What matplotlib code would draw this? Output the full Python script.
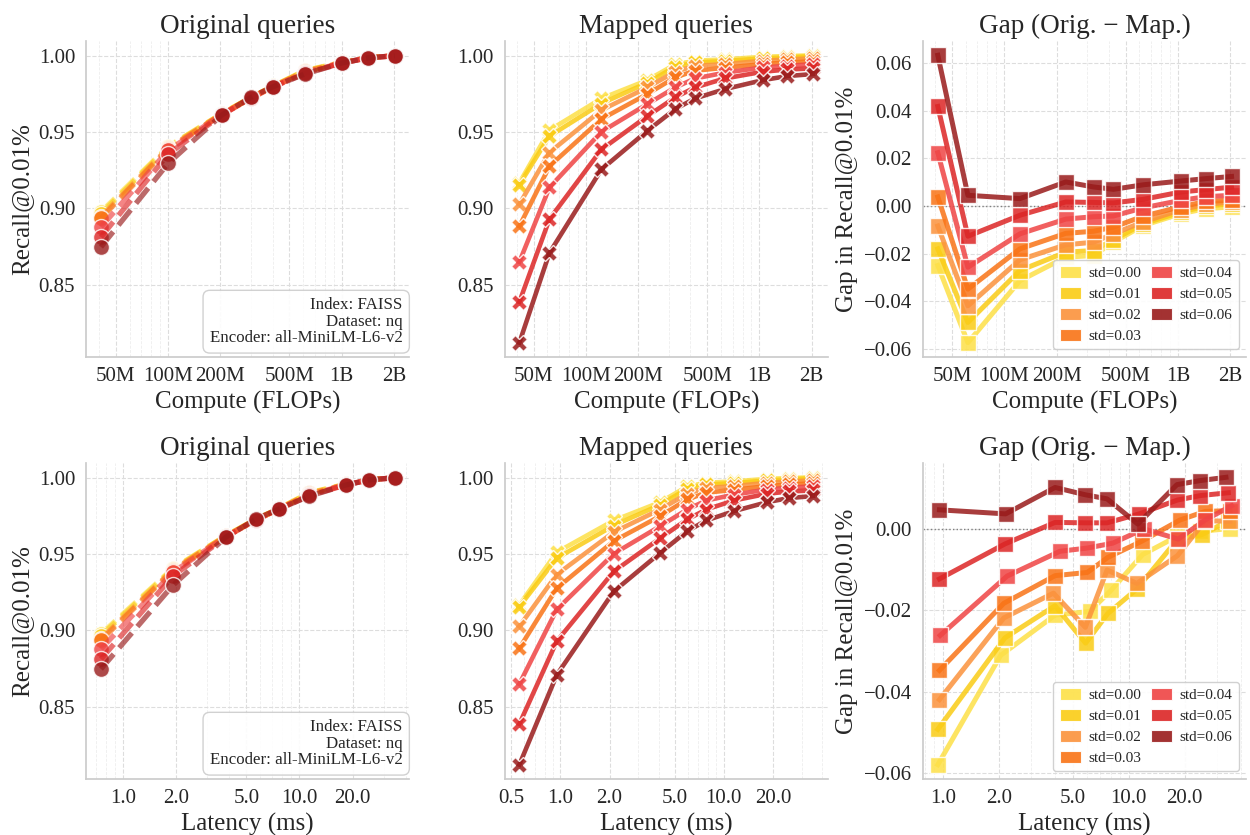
import matplotlib
matplotlib.use("Agg")
import matplotlib.pyplot as plt
from matplotlib.patches import Patch
from matplotlib.ticker import FixedLocator, NullFormatter, FuncFormatter

# noise levels and their colours
stds = [0.00, 0.01, 0.02, 0.03, 0.04, 0.05, 0.06]
colors = ['#FDE047', '#FACC15', '#FB923C', '#F97316', '#EF4444', '#DC2626', '#991B1B']

# operating points (x)
orig_flops = [41e6, 100e6, 204e6, 302e6, 402e6, 612e6, 1.01e9, 1.42e9, 2.02e9]
map_flops = [41.4e6, 61.7e6, 123e6, 226e6, 327e6, 425e6, 631e6, 1.045e9, 1.452e9, 2.04e9]
orig_lat = [0.747, 1.91, 3.83, 5.67, 7.70, 11.4, 18.4, 24.8, 34.7]
map_lat = [0.561, 0.95, 2.12, 4.08, 5.97, 7.80, 11.5, 18.4, 25.0, 35.2]

# recall of original queries, one row per std
orig_recall = [
    [0.8976, 0.9405, 0.9620, 0.9728, 0.9800, 0.9902, 0.9958, 0.9988, 1.0000],
    [0.8965, 0.9400, 0.9620, 0.9728, 0.9800, 0.9900, 0.9957, 0.9988, 1.0000],
    [0.8945, 0.9395, 0.9618, 0.9726, 0.9798, 0.9897, 0.9956, 0.9987, 1.0000],
    [0.8935, 0.9390, 0.9616, 0.9724, 0.9797, 0.9893, 0.9955, 0.9987, 1.0000],
    [0.8878, 0.9380, 0.9615, 0.9722, 0.9796, 0.9889, 0.9954, 0.9986, 1.0000],
    [0.8812, 0.9355, 0.9612, 0.9725, 0.9795, 0.9884, 0.9953, 0.9986, 1.0000],
    [0.8747, 0.9295, 0.9612, 0.9730, 0.9797, 0.9880, 0.9953, 0.9986, 1.0000],
]

# recall of mapped queries
map_recall = [
    [0.9167, 0.9512, 0.9720, 0.9840, 0.9943, 0.9967, 0.9976, 0.9993, 0.9998, 1.0003],
    [0.9156, 0.9473, 0.9687, 0.9823, 0.9928, 0.9956, 0.9965, 0.9983, 0.9989, 0.9998],
    [0.9027, 0.9366, 0.9644, 0.9792, 0.9895, 0.9934, 0.9945, 0.9967, 0.9976, 0.9983],
    [0.8883, 0.9276, 0.9585, 0.9749, 0.9858, 0.9902, 0.9921, 0.9945, 0.9956, 0.9965],
    [0.8649, 0.9137, 0.9502, 0.9683, 0.9792, 0.9851, 0.9889, 0.9923, 0.9934, 0.9945],
    [0.8387, 0.8929, 0.9386, 0.9604, 0.9727, 0.9792, 0.9851, 0.9895, 0.9910, 0.9917],
    [0.8120, 0.8708, 0.9255, 0.9508, 0.9650, 0.9720, 0.9781, 0.9840, 0.9867, 0.9880],
]

# gap vs compute (same x as mapped)
gap_flops = [
    [-0.0250, -0.0574, -0.0314, -0.0215, -0.0208, -0.0152, -0.0082, -0.0032, -0.0011, -0.0004],
    [-0.0180, -0.0489, -0.0271, -0.0194, -0.0187, -0.0142, -0.0075, -0.0025, -0.0001, 0.0010],
    [-0.0084, -0.0419, -0.0226, -0.0163, -0.0152, -0.0117, -0.0067, -0.0015, 0.0007, 0.0017],
    [0.0038, -0.0349, -0.0180, -0.0115, -0.0106, -0.0089, -0.0043, -0.0003, 0.0019, 0.0025],
    [0.0224, -0.0257, -0.0117, -0.0055, -0.0045, -0.0042, -0.0008, 0.0024, 0.0039, 0.0045],
    [0.0418, -0.0127, -0.0039, 0.0017, 0.0015, 0.0013, 0.0028, 0.0059, 0.0069, 0.0079],
    [0.0633, 0.0045, 0.0031, 0.0101, 0.0080, 0.0070, 0.0089, 0.0105, 0.0115, 0.0124],
]

# gap vs latency, each std has its own latencies
gap_lat_x = [
    [0.941, 2.05, 4.02, 6.17, 8.05, 11.9, 18.3, 24.3, 35.1],
    [0.941, 2.16, 4.02, 5.87, 7.73, 11.07, 18.3, 24.8, 34.4],
    [0.960, 2.13, 3.94, 5.85, 7.66, 11.07, 18.3, 25.8, 35.1],
    [0.960, 2.13, 4.02, 6.00, 7.73, 11.8, 18.9, 25.8, 35.1],
    [0.969, 2.22, 4.27, 6.00, 8.22, 12.1, 18.5, 25.8, 35.8],
    [0.960, 2.16, 4.02, 5.85, 7.66, 11.4, 18.3, 24.3, 34.4],
    [0.960, 2.18, 4.02, 5.85, 7.66, 11.2, 18.2, 24.3, 33.4],
]
gap_lat_y = [
    [-0.0580, -0.0311, -0.0212, -0.0203, -0.0151, -0.0063, -0.0018, -0.0006, 0.0001],
    [-0.0493, -0.0268, -0.0189, -0.0281, -0.0208, -0.0148, -0.0026, -0.0014, 0.0020],
    [-0.0420, -0.0219, -0.0158, -0.0242, -0.0101, -0.0134, -0.0066, 0.0020, 0.0019],
    [-0.0348, -0.0183, -0.0115, -0.0107, -0.0070, -0.0030, 0.0022, 0.0043, 0.0045],
    [-0.0262, -0.0116, -0.0055, -0.0047, -0.0035, 0.0000, -0.0025, 0.0022, 0.0057],
    [-0.0123, -0.0037, 0.0016, 0.0015, 0.0015, 0.0037, 0.0071, 0.0082, 0.0089],
    [0.0047, 0.0037, 0.0102, 0.0084, 0.0074, 0.0012, 0.0109, 0.0119, 0.0127],
]

flop_ticks = [5e7, 1e8, 2e8, 5e8, 1e9, 2e9]
flop_labels = ['50M', '100M', '200M', '500M', '1B', '2B']
lat_ticks = [0.5, 1.0, 2.0, 5.0, 10.0, 20.0]

plt.rcParams.update({
    'font.family': 'serif',
    'font.serif': ['Liberation Serif', 'DejaVu Serif'],
    'text.color': '#262626',
    'axes.labelcolor': '#262626',
    'xtick.color': '#262626',
    'ytick.color': '#262626',
    'axes.edgecolor': '#cccccc',
    'axes.linewidth': 1.25,
    'xtick.major.size': 0, 'ytick.major.size': 0,
    'xtick.minor.size': 0, 'ytick.minor.size': 0,
    'xtick.major.pad': 7, 'ytick.major.pad': 8,
    'xtick.labelsize': 15, 'ytick.labelsize': 15,
    'axes.titlesize': 19.5, 'axes.labelsize': 18,
})

fig, axes = plt.subplots(2, 3, figsize=(12.5, 8.35), dpi=100)
fig.subplots_adjust(left=0.069, right=0.997, top=0.951, bottom=0.067,
                    wspace=0.295, hspace=0.335)


def style_ax(ax, ticks, labels):
    ax.set_xscale('log')
    ax.xaxis.set_major_locator(FixedLocator(ticks))
    ax.set_xticklabels(labels)
    ax.xaxis.set_minor_formatter(NullFormatter())
    ax.grid(which='major', ls='--', lw=0.8, color='#dddddd')
    ax.grid(which='minor', axis='x', ls='--', lw=0.6, color='#eeeeee')
    ax.set_axisbelow(True)
    for s in ['top', 'right']:
        ax.spines[s].set_visible(False)


two_dec = FuncFormatter(lambda v, p: f'{v:.2f}'.replace('-', '\u2212'))

for row, (ox, mx, xlabel) in enumerate([(orig_flops, map_flops, 'Compute (FLOPs)'),
                                        (orig_lat, map_lat, 'Latency (ms)')]):
    ax_o, ax_m, ax_g = axes[row]

    for i in range(len(stds)):
        ax_o.plot(ox, orig_recall[i], ls='--', lw=3.8, color=colors[i], alpha=0.65)
        ax_o.plot(ox, orig_recall[i], ls='none', marker='o', ms=11.5,
                  mec='white', mew=1, color=colors[i], alpha=0.8)
        ax_m.plot(mx, map_recall[i], ls='-', lw=3.3, marker='X', ms=11.5,
                  mec='white', mew=1, color=colors[i], alpha=0.85)
        if row == 0:
            gx, gy = map_flops, gap_flops[i]
        else:
            gx, gy = gap_lat_x[i], gap_lat_y[i]
        ax_g.plot(gx, gy, ls='-', lw=3.6, marker='s', ms=11.5,
                  mec='white', mew=1, color=colors[i], alpha=0.85)

    ax_m.sharey(ax_o)
    ax_g.axhline(0, color='gray', ls=':', lw=1, zorder=1)

    if row == 0:
        for ax in (ax_o, ax_m, ax_g):
            style_ax(ax, flop_ticks, flop_labels)
    else:
        style_ax(ax_o, lat_ticks[1:], [f'{t:.1f}' for t in lat_ticks[1:]])
        style_ax(ax_m, lat_ticks, [f'{t:.1f}' for t in lat_ticks])
        style_ax(ax_g, lat_ticks[1:], [f'{t:.1f}' for t in lat_ticks[1:]])

    ax_o.set_yticks([0.85, 0.90, 0.95, 1.00])
    ax_o.yaxis.set_major_formatter(two_dec)
    ax_m.yaxis.set_major_formatter(two_dec)
    ax_g.yaxis.set_major_formatter(two_dec)

    ax_o.set_title('Original queries')
    ax_m.set_title('Mapped queries')
    ax_g.set_title('Gap (Orig. \u2212 Map.)')
    for ax in (ax_o, ax_m, ax_g):
        ax.set_xlabel(xlabel)
    ax_o.set_ylabel('Recall@0.01%')
    ax_g.set_ylabel('Gap in Recall@0.01%')

    ax_o.text(0.979, 0.034, 'Index: FAISS\nDataset: nq\nEncoder: all-MiniLM-L6-v2',
              transform=ax_o.transAxes, ha='right', va='bottom', fontsize=12.2,
              linespacing=1.05,
              bbox=dict(boxstyle='round,pad=0.4', fc='white', ec='#cccccc', alpha=0.9))

    handles = [Patch(facecolor=c, edgecolor='white', lw=0.8, alpha=0.9) for c in colors]
    ax_g.legend(handles, [f'std={s:.2f}' for s in stds], loc='lower right', ncol=2,
                fontsize=11, handlelength=1.4, handleheight=0.8, handletextpad=0.5,
                columnspacing=0.6, labelspacing=0.45, borderpad=0.4,
                framealpha=0.9, edgecolor='#cccccc')

axes[0, 2].set_yticks([-0.06, -0.04, -0.02, 0.00, 0.02, 0.04, 0.06])
axes[1, 2].set_yticks([-0.06, -0.04, -0.02, 0.00])

fig.savefig('out.png', dpi=100)
